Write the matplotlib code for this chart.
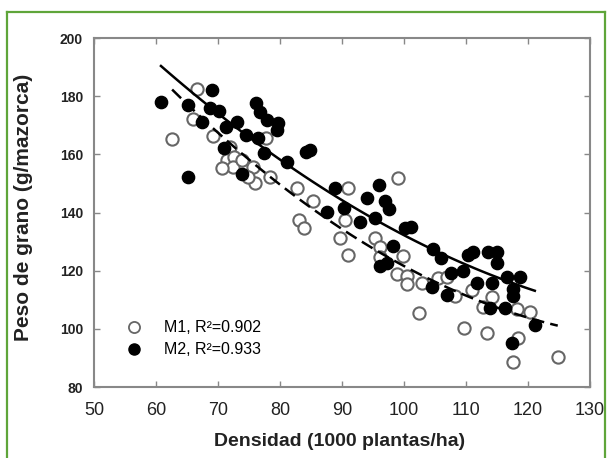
import numpy as np
import matplotlib.pyplot as plt
from matplotlib.lines import Line2D

plt.rcParams['font.family'] = ['Liberation Sans', 'DejaVu Sans']

# M1 (open circles)
m1_x = [62.6, 66.6, 66.0, 69.2, 71.9, 71.5, 72.6, 72.4, 70.6, 73.9, 75.6, 75.9,
        74.8, 77.7, 78.4, 82.7, 85.3, 83.0, 83.9, 91.0, 90.5, 89.7, 91.0,
        95.4, 96.1, 96.1, 99.0, 99.8, 98.9, 100.5, 100.5, 102.9, 102.5, 105.5,
        106.9, 108.2, 109.7, 111.0, 112.7, 114.2, 113.4, 117.6, 118.4, 118.3,
        120.4, 124.8]
m1_y = [165.4, 182.5, 172.2, 166.2, 162.5, 158.2, 159.0, 155.5, 155.3, 158.0, 155.7, 150.3,
        152.2, 165.6, 152.2, 148.4, 144.0, 137.4, 134.7, 148.4, 137.4, 131.2, 125.4,
        131.4, 128.1, 124.7, 152.0, 124.9, 118.8, 118.2, 115.4, 115.8, 105.6, 117.5,
        117.8, 111.3, 100.4, 113.4, 107.5, 111.0, 98.6, 88.6, 96.9, 106.8,
        105.8, 90.3]

# M2 (filled circles)
m2_x = [60.8, 65.2, 69.0, 68.7, 70.2, 67.5, 71.3, 73.1, 74.5, 76.5, 71.0, 65.2,
        73.9, 76.2, 76.8, 77.9, 79.7, 79.5, 77.4, 81.1, 84.2, 84.9, 88.9, 87.6,
        90.3, 92.9, 94.0, 96.0, 96.9, 97.6, 95.3, 100.1, 101.2, 98.2, 96.1, 97.3,
        104.7, 106.0, 104.5, 106.9, 107.6, 109.5, 110.3, 111.2, 111.8, 113.5, 115.0,
        114.2, 115.0, 116.6, 118.7, 117.6, 117.6, 113.9, 116.3, 117.5, 121.1]
m2_y = [178.0, 177.0, 182.0, 176.0, 175.0, 171.0, 169.5, 171.0, 166.7, 165.6, 162.3, 152.2,
        153.3, 177.7, 174.5, 171.8, 170.8, 168.2, 160.6, 157.4, 160.8, 161.5, 148.4, 140.2,
        141.4, 136.7, 145.0, 149.3, 144.0, 141.3, 138.2, 134.8, 135.1, 128.5, 121.5, 122.6,
        127.5, 124.4, 114.4, 111.6, 119.3, 120.0, 125.5, 126.4, 115.8, 126.4, 126.4,
        115.8, 122.6, 117.8, 117.8, 113.8, 111.2, 107.0, 107.3, 95.3, 101.3]

# quadratic fits: y = a*x^2 + b*x + c
m1_fit = [0.0128, -3.704, 364.0]
m2_fit = [0.0096, -3.028, 339.0]

labels = ["M1, R²=0.902", "M2, R²=0.933"]

fig = plt.figure(figsize=(6.1, 4.58), dpi=100)
ax = fig.add_axes([0.1541, 0.155, 0.8131, 0.762])

ax.scatter(m1_x, m1_y, s=78, facecolors='white', edgecolors='#666666', linewidths=1.5, zorder=2)
ax.scatter(m2_x, m2_y, s=78, facecolors='black', edgecolors='black', linewidths=1, zorder=3)

x1 = np.linspace(min(m1_x), max(m1_x), 100)
x2 = np.linspace(min(m2_x), max(m2_x), 100)
ax.plot(x1, np.polyval(m1_fit, x1), color='black', lw=1.8, dashes=(5, 2.5), zorder=4)
ax.plot(x2, np.polyval(m2_fit, x2), color='black', lw=1.8, zorder=4)

ax.set_xlim(50, 130)
ax.set_ylim(80, 200)
ax.set_xticks(range(50, 131, 10))
ax.set_yticks(range(80, 201, 20))
for s in ax.spines.values():
    s.set_color('#888888')
    s.set_linewidth(1.5)
ax.tick_params(axis='both', direction='in', length=4, width=1, color='#888888',
               top=True, right=True)
ax.tick_params(axis='x', labelsize=13, pad=11, labelcolor='#222222')
ax.tick_params(axis='y', labelsize=10, pad=8, labelcolor='#222222')
for t in ax.get_yticklabels():
    t.set_fontweight('bold')

fig.text(0.557, 0.035, "Densidad (1000 plantas/ha)", ha='center', va='center',
         fontsize=14, fontweight='bold', color='#222222')
fig.text(0.038, 0.548, "Peso de grano (g/mazorca)", ha='center', va='center',
         rotation=90, fontsize=15, fontweight='bold', color='#222222')

handles = [
    Line2D([], [], marker='o', ls='none', ms=8, mfc='white', mec='#666666', mew=1.3),
    Line2D([], [], marker='o', ls='none', ms=8, mfc='black', mec='black'),
]
ax.legend(handles, labels, loc='upper left', bbox_to_anchor=(0.048, 0.21),
          frameon=False, fontsize=11.5, handletextpad=1.3, labelspacing=0.45,
          borderaxespad=0, handlelength=1.2)

# green frame around the picture
green = '#5fa53a'
fig.add_artist(Line2D([0.0115, 0.0115], [0.974, 0.0], color=green, lw=1.6, transform=fig.transFigure))
fig.add_artist(Line2D([0.0115, 0.992], [0.974, 0.974], color=green, lw=1.6, transform=fig.transFigure))
fig.add_artist(Line2D([0.992, 0.992], [0.974, 0.0], color=green, lw=1.6, transform=fig.transFigure))

plt.savefig("out.png", dpi=100)
